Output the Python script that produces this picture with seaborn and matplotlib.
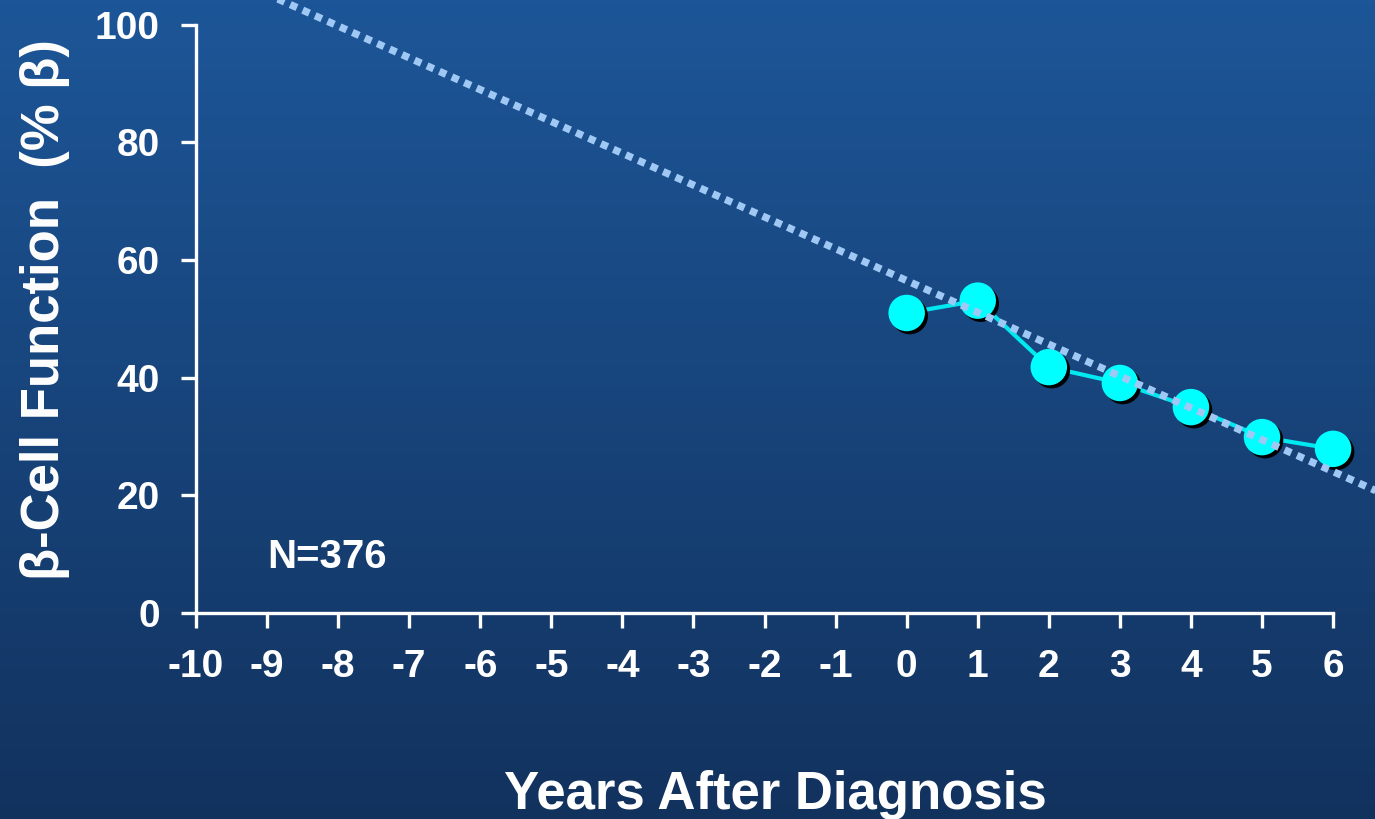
import numpy as np
import pandas as pd
import matplotlib
matplotlib.use("Agg")
import matplotlib.pyplot as plt
import matplotlib.patheffects as pe
import seaborn as sns

# UKPDS beta-cell function after diagnosis
years = [0, 1, 2, 3, 4, 5, 6]
beta_pct = [51.0, 53.1, 41.8, 39.1, 35.0, 29.9, 27.9]

# extrapolated trend (dotted), end points
trend_years = [-10, 6.6]
trend_pct = [110.6, 20.8]

xticks = list(range(-10, 7))
yticks = [0, 20, 40, 60, 80, 100]

sns.set_theme(style="white")
plt.rcParams['font.family'] = ['Liberation Sans', 'DejaVu Sans']
plt.rcParams['font.weight'] = 'bold'

fig = plt.figure(figsize=(13.75, 8.19), dpi=100)

# background gradient
bg = fig.add_axes([0, 0, 1, 1], zorder=0)
top = np.array([29, 86, 152]) / 255
bot = np.array([18, 50, 94]) / 255
t = np.linspace(0, 1, 256)[:, None]
grad = top[None, :] * (1 - t) + bot[None, :] * t
bg.imshow(grad[:, None, :], aspect='auto', extent=[0, 1, 0, 1])
bg.axis('off')

ax = fig.add_axes([196 / 1375, (819 - 613) / 819, 1 - 196 / 1375, 613 / 819], zorder=1)
ax.patch.set_alpha(0)

df = pd.DataFrame({"year": years, "pct": beta_pct})
tr = pd.DataFrame({"year": trend_years, "pct": trend_pct})

sns.lineplot(data=df, x="year", y="pct", ax=ax, color="#00e8f0", lw=3, zorder=3)
sns.scatterplot(data=df, x="year", y="pct", ax=ax, color="#00ffff", s=690,
                edgecolor='none', zorder=4,
                path_effects=[pe.SimplePatchShadow(offset=(2.2, -2.2), shadow_rgbFace='black', alpha=1),
                              pe.Normal()])
sns.lineplot(data=tr, x="year", y="pct", ax=ax, color="#9fc8f4", lw=5.3,
             linestyle=(0, (1, 0.85)), dash_capstyle='butt', zorder=5)

ax.set_xlim(-10, 6.59)
ax.set_ylim(0, 104.2)
ax.set_xticks(xticks)
ax.set_xticklabels([str(v) for v in xticks])
ax.set_yticks(yticks)
ax.set_xlabel("")
ax.set_ylabel("")

for s in ['top', 'right']:
    ax.spines[s].set_visible(False)
for s in ['left', 'bottom']:
    ax.spines[s].set_color('white')
    ax.spines[s].set_linewidth(2.4)
ax.spines['left'].set_bounds(0, 100)
ax.spines['bottom'].set_bounds(-10, 6)

ax.tick_params(axis='both', colors='white', length=11, width=2.4, labelsize=28,
               bottom=True, left=True, direction='out')
ax.tick_params(axis='x', pad=15)
ax.tick_params(axis='y', pad=15)
for lab in ax.get_xticklabels() + ax.get_yticklabels():
    lab.set_fontweight('bold')

ax.text(-9, 9.5, "N=376", color='white', fontsize=29, fontweight='bold',
        ha='left', va='center')

fig.text(775 / 1375, 1 - 795 / 819, "Years After Diagnosis", color='white',
         fontsize=38, fontweight='bold', ha='center', va='center')
fig.text(45 / 1375, 1 - 310 / 819, "\u03b2-Cell Function  (% \u03b2)", color='white',
         fontsize=38, fontweight='bold', ha='center', va='center', rotation=90)

fig.savefig("out.png", dpi=100)
